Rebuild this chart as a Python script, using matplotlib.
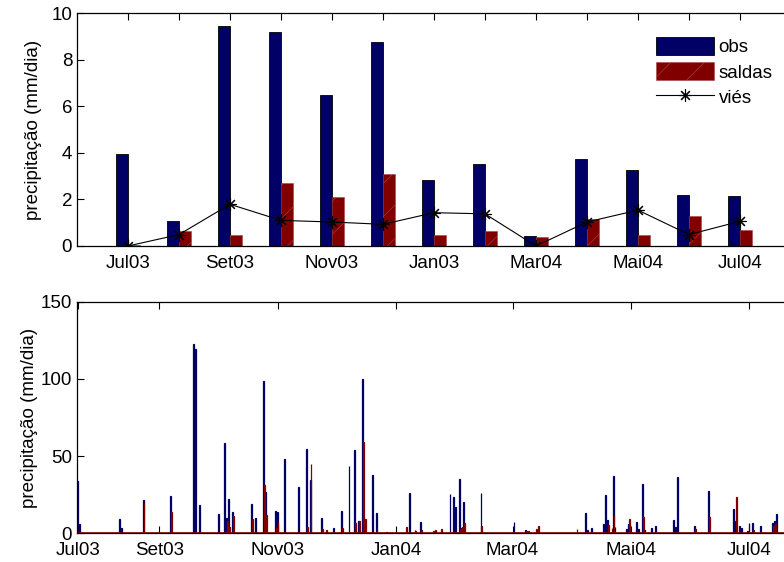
import matplotlib
matplotlib.use("Agg")
import matplotlib.pyplot as plt

plt.rcParams['font.family'] = ['Liberation Sans', 'DejaVu Sans']
plt.rcParams['hatch.linewidth'] = 0.4

# painel de cima: medias mensais (mm/dia)
meses = list(range(13))
rotulos_meses = ['Jul03', '', 'Set03', '', 'Nov03', '', 'Jan03', '', 'Mar04', '', 'Mai04', '', 'Jul04']
obs = [3.96, 1.08, 9.45, 9.18, 6.48, 8.75, 2.83, 3.51, 0.42, 3.72, 3.26, 2.18, 2.14]
saldas = [0.05, 0.65, 0.47, 2.70, 2.12, 3.10, 0.47, 0.65, 0.40, 1.18, 0.46, 1.29, 0.67]
vies = [0.0, 0.49, 1.79, 1.10, 1.03, 0.93, 1.43, 1.38, 0.0, 1.03, 1.54, 0.49, 1.06]

# painel de baixo: valores diarios (dias contados a partir de 21/07/2003)
dia = [0, 1, 22, 23, 34, 48, 60, 61, 63, 73, 76, 77, 78, 80, 90, 92, 96, 97, 102, 103,
       107, 114, 118, 120, 126, 128, 132, 136, 140, 143, 145, 147, 148, 152, 154, 159,
       169, 171, 174, 177, 183, 184, 187, 192, 194, 195, 197, 198, 199, 208, 225, 231,
       232, 236, 237, 257, 262, 263, 265, 271, 272, 273, 275, 276, 277, 283, 284, 288,
       289, 291, 292, 296, 298, 307, 308, 309, 318, 325, 338, 339, 341, 342, 345, 346,
       348, 352, 358, 359, 360]
obs_dia = [33.9, 6.0, 9.3, 3.2, 21.6, 24.4, 122.4, 119.2, 18.4, 12.5, 58.3, 9.7, 22.0,
           13.8, 18.8, 9.7, 98.7, 27.0, 14.7, 13.6, 48.4, 30.2, 54.6, 34.3, 9.7, 0.0,
           3.7, 14.7, 43.6, 53.8, 8.2, 99.7, 0.0, 38.0, 13.2, 0.0, 0.0, 25.9, 2.2, 7.3,
           0.0, 0.0, 0.0, 25.5, 23.3, 17.0, 35.2, 3.7, 20.3, 26.1, 7.6, 2.2, 0.0, 0.0,
           0.0, 0.0, 13.2, 2.2, 3.5, 6.0, 24.8, 8.6, 0.0, 37.1, 4.1, 2.8, 6.0, 7.6, 2.6,
           31.7, 2.2, 3.2, 5.0, 8.4, 4.1, 36.5, 4.7, 27.4, 15.8, 8.2, 4.5, 3.5, 1.5, 6.7,
           6.9, 4.7, 6.5, 8.0, 12.5]
sal_dia = [0.0, 0.0, 0.0, 0.0, 19.9, 13.8, 0.0, 0.0, 0.0, 0.5, 0.0, 8.2, 3.9, 11.2,
           9.3, 0.0, 31.3, 11.7, 3.7, 7.1, 0.0, 0.0, 4.3, 44.9, 2.6, 2.0, 0.0, 3.2, 0.5,
           6.5, 8.0, 59.4, 9.3, 0.0, 2.2, 0.9, 4.1, 0.0, 1.7, 2.4, 1.5, 2.2, 2.8, 0.0,
           0.0, 0.0, 2.6, 3.9, 6.5, 4.5, 0.0, 1.5, 1.5, 3.0, 4.5, 2.8, 0.0, 0.0, 0.0, 0.0,
           0.0, 5.2, 3.5, 11.9, 0.0, 0.0, 9.3, 0.0, 0.0, 10.6, 0.0, 0.0, 0.0, 0.0, 0.0,
           1.7, 2.6, 10.8, 0.0, 23.5, 0.0, 0.0, 0.0, 0.0, 2.2, 0.0, 5.0, 6.0, 0.0]
dias_ticks = [0, 42, 103, 164, 224, 285, 346]
rotulos_dias = ['Jul03', 'Set03', 'Nov03', 'Jan04', 'Mar04', 'Mai04', 'Jul04']

azul = '#000066'
vermelho = '#800000'

W, H = 784, 562
fig = plt.figure(figsize=(W / 100, H / 100), dpi=100)
esq = 77 / W
larg = 714 / W
ax1 = fig.add_axes([esq, 1 - 246 / H, larg, 233 / H])
ax2 = fig.add_axes([esq, 1 - 533.3 / H, larg, 231.6 / H])

fs = 13.5

# --- painel mensal ---
lw = 0.23
b1 = ax1.bar([m - lw / 2 for m in meses], obs, width=lw, color=azul, edgecolor='black',
             linewidth=0.6, label='obs', zorder=2)
b2 = ax1.bar([m + lw / 2 for m in meses], saldas, width=lw, color=vermelho, edgecolor='#a84545',
             linewidth=0.4, hatch='/', label='saldas', zorder=2)
l1, = ax1.plot(meses, vies, color='black', linewidth=0.8, marker=(8, 2, 0), markersize=9,
               markeredgewidth=0.8, label='viés', zorder=3)
ax1.set_xlim(-1, 13)
ax1.set_ylim(0, 10)
ax1.set_xticks(meses)
ax1.set_xticklabels(rotulos_meses)
ax1.set_yticks([0, 2, 4, 6, 8, 10])
ax1.set_ylabel('precipitação (mm/dia)', fontsize=fs)
leg = ax1.legend(handles=[b1, b2, l1], loc='upper left', bbox_to_anchor=(654 / W, 1 - 35 / H),
                 bbox_transform=fig.transFigure, fontsize=fs, frameon=True,
                 handlelength=3.1, handleheight=1.1, handletextpad=0.25,
                 labelspacing=0.32, borderpad=0.1, borderaxespad=0)
leg.get_frame().set_edgecolor('none')
leg.get_frame().set_facecolor('white')
leg.get_frame().set_alpha(1)

# --- painel diario ---
bw = 0.45
ax2.bar([d - bw / 2 for d in dia], obs_dia, width=bw, color=azul, edgecolor=azul,
        linewidth=0.9, zorder=2)
ax2.bar([d + bw / 2 for d in dia], sal_dia, width=bw, color=vermelho, edgecolor=vermelho,
        linewidth=0.9, zorder=2)
ax2.axhline(0, color=vermelho, linewidth=1.2, zorder=3)
ax2.set_xlim(-0.3, 367.4)
ax2.set_ylim(0, 150)
ax2.set_xticks(dias_ticks)
ax2.set_xticklabels(rotulos_dias)
ax2.set_yticks([0, 50, 100, 150])
ax2.set_ylabel('precipitação (mm/dia)', fontsize=fs)

for ax in (ax1, ax2):
    ax.tick_params(direction='in', length=5, width=0.8, top=True, right=True,
                   labelsize=fs)
    ax.tick_params(axis='x', pad=6.5)
    ax.tick_params(axis='y', pad=3.5)
    for s in ax.spines.values():
        s.set_linewidth(0.9)
ax1.yaxis.set_label_coords((42 - 77) / 714, 0.5)
ax2.yaxis.set_label_coords((38 - 77) / 714, 0.5)

fig.savefig('out.png', dpi=100)
